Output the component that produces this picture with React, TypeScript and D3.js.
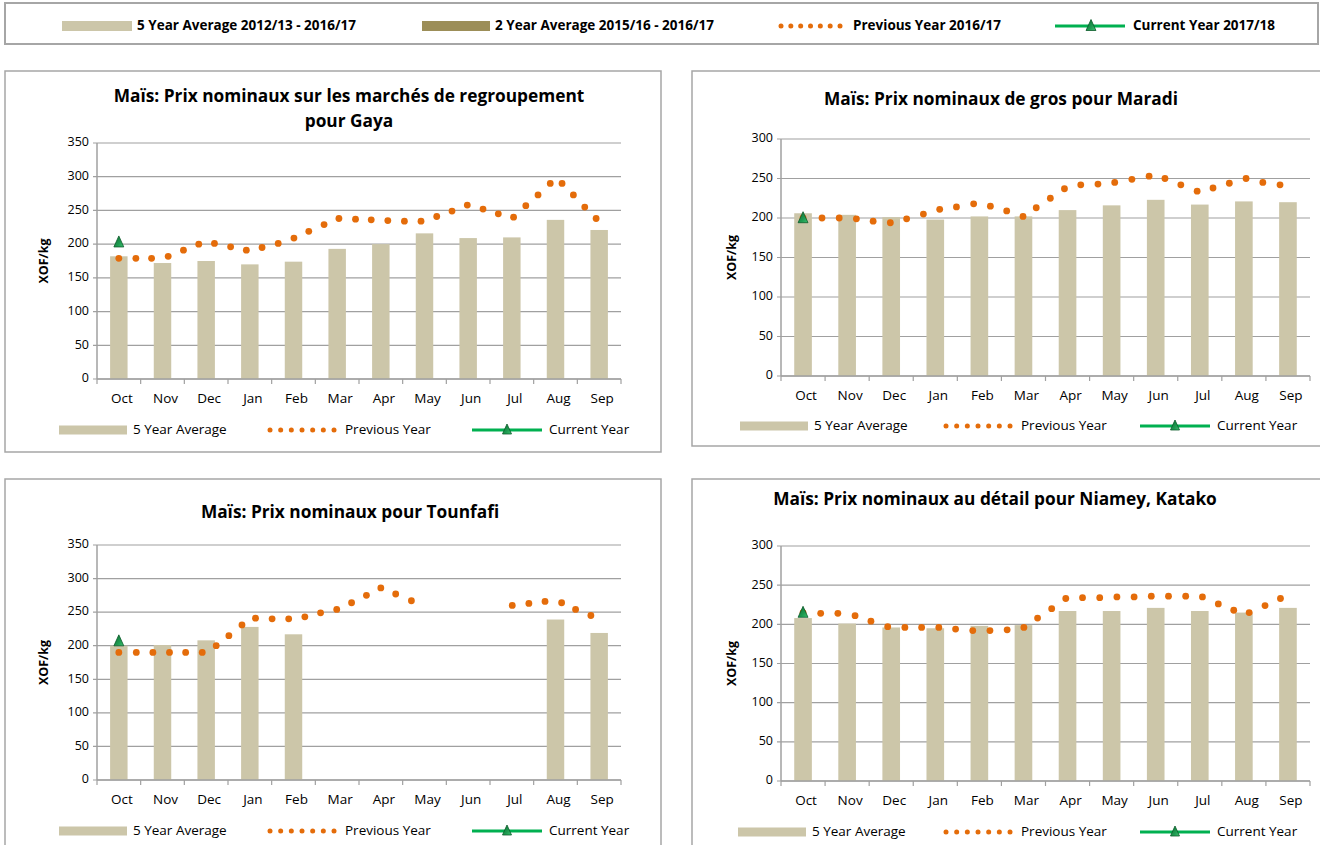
import React from "react";
import * as d3 from "d3";

const months = ["Oct", "Nov", "Dec", "Jan", "Feb", "Mar", "Apr", "May", "Jun", "Jul", "Aug", "Sep"];
const ticks350 = [0, 50, 100, 150, 200, 250, 300, 350];
const ticks300 = [0, 50, 100, 150, 200, 250, 300];

const topLegendLabels = ["5 Year Average 2012/13 - 2016/17", "2 Year Average 2015/16 - 2016/17", "Previous Year 2016/17", "Current Year 2017/18"];
const panelLegendLabels = ["5 Year Average", "Previous Year", "Current Year"];

// Gaya
const gayaAverage = [182, 172, 175, 170, 174, 193, 200, 216, 209, 210, 236, 221];
const gayaCurrent = [204];
const gayaPrevPos = [0, 0.39, 0.75, 1.13, 1.48, 1.83, 2.19, 2.56, 2.92, 3.28, 3.65, 4.01, 4.35, 4.7, 5.04, 5.42, 5.78, 6.16, 6.54, 6.92, 7.28, 7.63, 7.98, 8.34, 8.69, 9.04, 9.32, 9.6, 9.88, 10.15, 10.41, 10.67, 10.93];
const gayaPrevVal = [179, 179, 179, 182, 191, 200, 201, 196, 191, 195, 201, 209, 219, 229, 238, 237, 236, 235, 234, 234, 241, 249, 258, 252, 245, 240, 257, 273, 290, 290, 273, 255, 238];

// Maradi
const maradiAverage = [206, 204, 201, 198, 202, 202, 210, 216, 223, 217, 221, 220];
const maradiCurrent = [201];
const maradiPrevPos = [0, 0.43, 0.82, 1.21, 1.59, 1.98, 2.35, 2.73, 3.1, 3.48, 3.87, 4.25, 4.62, 4.99, 5.29, 5.61, 5.93, 6.3, 6.69, 7.07, 7.46, 7.85, 8.21, 8.57, 8.94, 9.3, 9.67, 10.05, 10.43, 10.82];
const maradiPrevVal = [200, 200, 200, 199, 196, 194, 199, 205, 211, 214, 218, 215, 209, 202, 213, 225, 237, 242, 243, 245, 249, 253, 250, 242, 234, 238, 244, 250, 245, 242];

// Tounfafi
const tounfafiAverage = [200, 201, 208, 228, 217, null, null, null, null, null, 239, 219];
const tounfafiCurrent = [208];
const tounfafiPrevPos = [0, 0.4, 0.78, 1.16, 1.53, 1.91, 2.23, 2.52, 2.82, 3.13, 3.51, 3.89, 4.26, 4.62, 4.99, 5.33, 5.67, 6.0, 6.34, 6.7, 9.01, 9.39, 9.76, 10.14, 10.46, 10.81];
const tounfafiPrevVal = [190, 190, 190, 190, 190, 190, 200, 215, 231, 241, 240, 240, 243, 249, 254, 264, 275, 286, 277, 267, 260, 263, 266, 264, 254, 245];

// Niamey, Katako
const niameyAverage = [208, 201, 196, 195, 198, 199, 217, 217, 221, 217, 215, 221];
const niameyCurrent = [216];
const niameyPrevPos = [0, 0.4, 0.79, 1.18, 1.54, 1.92, 2.31, 2.69, 3.08, 3.46, 3.85, 4.24, 4.63, 5.01, 5.32, 5.64, 5.96, 6.34, 6.73, 7.12, 7.51, 7.9, 8.29, 8.68, 9.06, 9.42, 9.77, 10.12, 10.48, 10.83];
const niameyPrevVal = [215, 214, 214, 211, 204, 197, 196, 196, 196, 194, 192, 192, 193, 196, 208, 220, 233, 234, 234, 235, 235, 236, 236, 236, 235, 226, 218, 215, 224, 233];

const FONT = "'Open Sans', Lato, sans-serif";
const BAR = "#CCC6A9";
const OLIVE = "#9C8E58";
const ORANGE = "#E46C0A";
const GREEN = "#00B050";
const GRID = "#A0A0A0";

function Triangle({ x, y, size = 11 }: { x: number; y: number; size?: number }) {
  const h = size;
  const w = size * 0.9;
  const d = `M${x},${y - h / 2} L${x + w / 2},${y + h / 2} L${x - w / 2},${y + h / 2} Z`;
  return <path d={d} fill="url(#triGrad)" stroke="#0B5A2A" strokeWidth={0.8} />;
}

function LegendDots({ x, y, n = 7, span = 68 }: { x: number; y: number; n?: number; span?: number }) {
  const s = d3.scaleLinear().domain([0, n - 1]).range([x + 2, x + span - 2]);
  return (
    <g>
      {d3.range(n).map((i) => (
        <circle key={i} cx={s(i)} cy={y} r={2.5} fill={ORANGE} />
      ))}
    </g>
  );
}

type PanelProps = {
  box: [number, number, number, number];
  plot: [number, number, number, number];
  titles: string[];
  titleX: number;
  titleY: number;
  yMax: number;
  ticks: number[];
  avg: (number | null)[];
  prevPos: number[];
  prevVal: number[];
  current: number[];
  labelY: number;
  legendY: number;
  legendX: [number, number, number];
  yLabelX: number;
};

function Panel(p: PanelProps) {
  const [bx0, by0, bx1, by1] = p.box;
  const [left, top, right, bottom] = p.plot;
  const band = d3.scaleBand<string>().domain(months).range([left, right]);
  const y = d3.scaleLinear().domain([0, p.yMax]).range([bottom, top]);
  const cx = (m: string) => (band(m) as number) + band.bandwidth() / 2;
  const xp = d3.scaleLinear().domain([0, 11]).range([cx(months[0]), cx(months[11])]);
  const barW = band.bandwidth() * 0.4;
  const [lx0, lx1, lx2] = p.legendX;
  return (
    <g>
      <rect x={bx0} y={by0} width={bx1 - bx0} height={by1 - by0} fill="#fff" stroke="#A6A6A6" strokeWidth={1.5} />
      {p.titles.map((t, i) => (
        <text key={i} x={p.titleX} y={p.titleY + i * 25} textAnchor="middle" fontFamily={FONT} fontWeight="bold" fontSize={17.3} fill="#000" dominantBaseline="middle">
          {t}
        </text>
      ))}
      {p.ticks.map((t) => (
        <g key={t}>
          <line x1={left - 4} x2={right} y1={y(t)} y2={y(t)} stroke={GRID} strokeWidth={1.2} />
          <text x={left - 8} y={y(t)} textAnchor="end" dominantBaseline="middle" fontFamily={FONT} fontSize={12.5} fill="#000">
            {t}
          </text>
        </g>
      ))}
      <text transform={`translate(${p.yLabelX},${(top + bottom) / 2}) rotate(-90)`} textAnchor="middle" dominantBaseline="middle" fontFamily={FONT} fontWeight="bold" fontSize={12.5}>
        XOF/kg
      </text>
      {months.map((m, i) =>
        p.avg[i] == null ? null : (
          <rect key={m} x={cx(m) - barW / 2} y={y(p.avg[i] as number)} width={barW} height={bottom - y(p.avg[i] as number)} fill={BAR} />
        )
      )}
      <line x1={left} x2={left} y1={top} y2={bottom} stroke={GRID} strokeWidth={1.5} />
      <line x1={left} x2={right} y1={bottom} y2={bottom} stroke={GRID} strokeWidth={1.5} />
      {d3.range(13).map((i) => {
        const xx = left + (i * (right - left)) / 12;
        return <line key={i} x1={xx} x2={xx} y1={bottom} y2={bottom + 5} stroke={GRID} strokeWidth={1.2} />;
      })}
      {months.map((m) => (
        <text key={m} x={cx(m) + 3} y={p.labelY} textAnchor="middle" dominantBaseline="middle" fontFamily={FONT} fontSize={13.5} fill="#000">
          {m}
        </text>
      ))}
      {p.prevPos.map((pos, i) => (
        <circle key={i} cx={xp(pos)} cy={y(p.prevVal[i])} r={3.4} fill={ORANGE} />
      ))}
      {p.current.map((v, i) => (
        <Triangle key={i} x={cx(months[i])} y={y(v)} />
      ))}
      <rect x={lx0} y={p.legendY - 4.5} width={68} height={9} fill={BAR} />
      <text x={lx0 + 74} y={p.legendY} dominantBaseline="middle" fontFamily={FONT} fontSize={13.5}>
        {panelLegendLabels[0]}
      </text>
      <LegendDots x={lx1} y={p.legendY} />
      <text x={lx1 + 77} y={p.legendY} dominantBaseline="middle" fontFamily={FONT} fontSize={13.5}>
        {panelLegendLabels[1]}
      </text>
      <line x1={lx2} x2={lx2 + 70} y1={p.legendY} y2={p.legendY} stroke={GREEN} strokeWidth={3} />
      <Triangle x={lx2 + 35} y={p.legendY - 1} size={10} />
      <text x={lx2 + 77} y={p.legendY} dominantBaseline="middle" fontFamily={FONT} fontSize={13.5}>
        {panelLegendLabels[2]}
      </text>
    </g>
  );
}

export default function App() {
  return (
    <svg width={1320} height={845} style={{ position: "absolute", left: 0, top: 0, background: "#fff" }}>
      <defs>
        <linearGradient id="triGrad" x1="0" y1="0" x2="1" y2="1">
          <stop offset="0" stopColor="#0E6B33" />
          <stop offset="0.6" stopColor="#1E9A50" />
          <stop offset="1" stopColor="#3CC070" />
        </linearGradient>
      </defs>
      <rect x={0} y={0} width={1320} height={845} fill="#fff" />
      <rect x={5} y={3} width={1313} height={41} fill="#fff" stroke="#A6A6A6" strokeWidth={2} />
      <rect x={62} y={21} width={70} height={10} fill={BAR} />
      <text x={137} y={26} dominantBaseline="middle" fontFamily={FONT} fontWeight="bold" fontSize={13.5}>{topLegendLabels[0]}</text>
      <rect x={422} y={21} width={68} height={10} fill={OLIVE} />
      <text x={495} y={26} dominantBaseline="middle" fontFamily={FONT} fontWeight="bold" fontSize={13.5}>{topLegendLabels[1]}</text>
      <LegendDots x={779} y={26} n={7} span={63} />
      <text x={853} y={26} dominantBaseline="middle" fontFamily={FONT} fontWeight="bold" fontSize={13.5}>{topLegendLabels[2]}</text>
      <line x1={1055} x2={1125} y1={26} y2={26} stroke={GREEN} strokeWidth={3} />
      <Triangle x={1091} y={25} size={11} />
      <text x={1133} y={26} dominantBaseline="middle" fontFamily={FONT} fontWeight="bold" fontSize={13.5}>{topLegendLabels[3]}</text>

      <Panel box={[5, 71, 661, 452]} plot={[97, 143, 621, 379]} titles={["Maïs: Prix nominaux sur les marchés de regroupement", "pour Gaya"]} titleX={349} titleY={97} yMax={350} ticks={ticks350} avg={gayaAverage} prevPos={gayaPrevPos} prevVal={gayaPrevVal} current={gayaCurrent} labelY={399} legendY={430} legendX={[59, 268, 472]} yLabelX={45} />
      <Panel box={[692, 71, 1324, 446]} plot={[781, 139, 1310, 376]} titles={["Maïs: Prix nominaux de gros pour Maradi"]} titleX={1001} titleY={100} yMax={300} ticks={ticks300} avg={maradiAverage} prevPos={maradiPrevPos} prevVal={maradiPrevVal} current={maradiCurrent} labelY={396} legendY={426} legendX={[740, 944, 1140]} yLabelX={733} />
      <Panel box={[5, 479, 661, 852]} plot={[97, 545, 621, 780]} titles={["Maïs: Prix nominaux pour Tounfafi"]} titleX={350} titleY={513} yMax={350} ticks={ticks350} avg={tounfafiAverage} prevPos={tounfafiPrevPos} prevVal={tounfafiPrevVal} current={tounfafiCurrent} labelY={800} legendY={831} legendX={[59, 268, 472]} yLabelX={45} />
      <Panel box={[692, 479, 1324, 852]} plot={[781, 546, 1310, 781]} titles={["Maïs: Prix nominaux au détail pour Niamey, Katako"]} titleX={995} titleY={500} yMax={300} ticks={ticks300} avg={niameyAverage} prevPos={niameyPrevPos} prevVal={niameyPrevVal} current={niameyCurrent} labelY={801} legendY={832} legendX={[738, 944, 1140]} yLabelX={733} />
    </svg>
  );
}
